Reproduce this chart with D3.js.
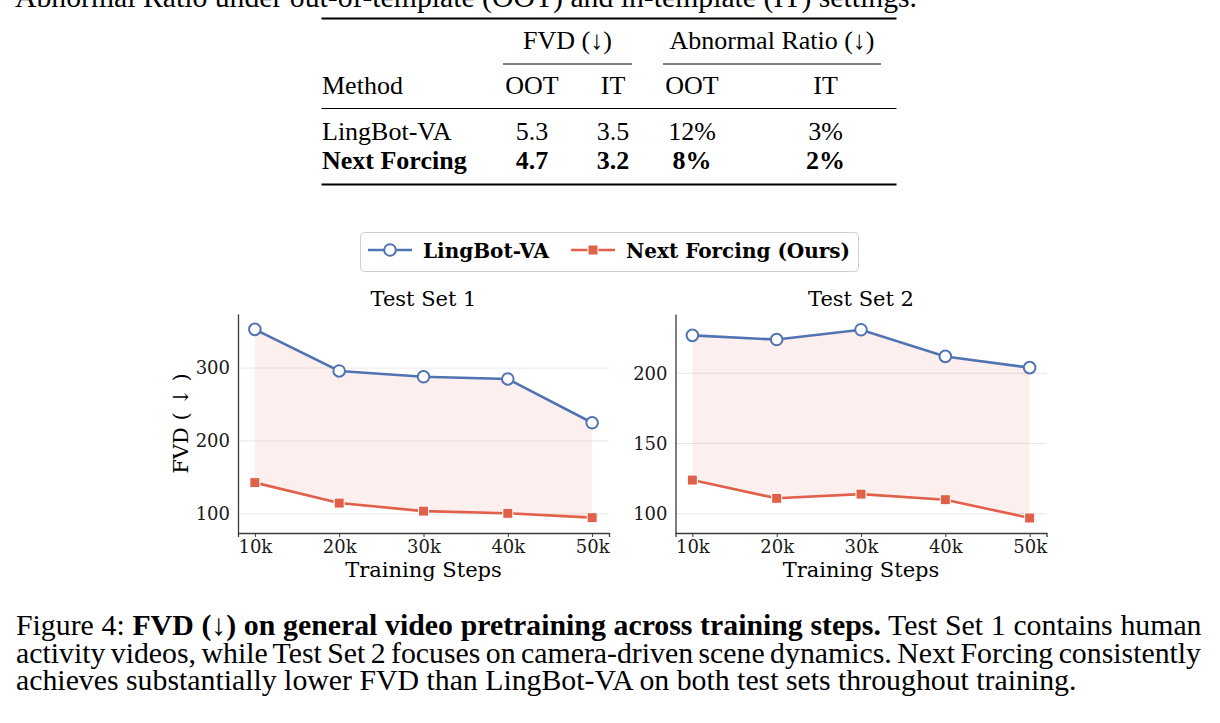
<!DOCTYPE html>
<html>
<head>
<meta charset="utf-8">
<script src="https://cdn.jsdelivr.net/npm/d3@7"></script>
<style>
  body { margin: 0; background: #fff; }
  svg { display: block; }
</style>
</head>
<body>
<div id="figure"></div>
<script>

// ---- chart data ----
const steps = ["10k", "20k", "30k", "40k", "50k"];
const stepValues = [10, 20, 30, 40, 50];
const seriesNames = ["LingBot-VA", "Next Forcing (Ours)"];
const panelTitles = ["Test Set 1", "Test Set 2"];

const set1Lingbot = [353, 296, 288, 285, 225];
const set1Next = [143, 115, 104, 101, 95];
const set2Lingbot = [227, 224, 231, 212, 204];
const set2Next = [124, 111, 114, 110, 97];

const set1Ticks = [100, 200, 300];
const set2Ticks = [100, 150, 200];

// ---- table data ----
const tableMethods = ["LingBot-VA", "Next Forcing"];
const fvdOOT = ["5.3", "4.7"];
const fvdIT = ["3.5", "3.2"];
const abnOOT = ["12%", "8%"];
const abnIT = ["3%", "2%"];

// ---- caption text ----
const topLine = "Abnormal Ratio under out-of-template (OOT) and in-template (IT) settings.";
const captionLines = [
  [["Figure 4: ", false], ["FVD (\u2193) on general video pretraining across training steps.", true], [" Test Set 1 contains human", false]],
  [["activity videos, while Test Set 2 focuses on camera-driven scene dynamics. Next Forcing consistently", false]],
  [["achieves substantially lower FVD than LingBot-VA on both test sets throughout training.", false]]
];

const width = 1220, height = 723;
const blue = "#5073b2", red = "#e0604a";
const times = "'Liberation Serif', 'Times New Roman', serif";
const dejavu = "'DejaVu Serif', serif";

const svg = d3.select("#figure")
  .append("svg")
  .attr("width", width)
  .attr("height", height);

/*
  Table (top)
*/

// cut-off line of text above the table
svg.append("text")
  .attr("x", 15).attr("y", 7)
  .attr("font-family", times).attr("font-size", 29.8)
  .attr("textLength", 902).attr("lengthAdjust", "spacingAndGlyphs")
  .text(topLine);

const rule = (y, x1, x2, w) => svg.append("line")
  .attr("x1", x1).attr("x2", x2).attr("y1", y).attr("y2", y)
  .attr("stroke", "#000").attr("stroke-width", w);

rule(18.5, 321.5, 896.5, 2);
rule(64, 503, 632, 1);
rule(64, 663, 881, 1);
rule(108.5, 321.5, 896.5, 1);
rule(184.5, 321.5, 896.5, 2);

const tcell = (x, y, txt, anchor, bold) => svg.append("text")
  .attr("x", x).attr("y", y)
  .attr("text-anchor", anchor)
  .attr("font-family", times).attr("font-size", 26)
  .attr("font-weight", bold ? "bold" : "normal")
  .text(txt);

tcell(567.5, 49, "FVD (\u2193)", "middle", false);
tcell(772, 49, "Abnormal Ratio (\u2193)", "middle", false);
tcell(322, 94, "Method", "start", false);
tcell(532, 94, "OOT", "middle", false);
tcell(613, 94, "IT", "middle", false);
tcell(692, 94, "OOT", "middle", false);
tcell(825.5, 94, "IT", "middle", false);

const rowY = [140, 169];
tableMethods.forEach((m, i) => {
  const b = i === 1;
  tcell(322, rowY[i], m, "start", b);
  tcell(532, rowY[i], fvdOOT[i], "middle", b);
  tcell(613, rowY[i], fvdIT[i], "middle", b);
  tcell(692, rowY[i], abnOOT[i], "middle", b);
  tcell(825.5, rowY[i], abnIT[i], "middle", b);
});

/*
  Legend
*/

const legend = svg.append("g");
legend.append("rect")
  .attr("x", 360.5).attr("y", 232.5)
  .attr("width", 498).attr("height", 39)
  .attr("rx", 4)
  .attr("fill", "#fff").attr("stroke", "#cfcfcf");

legend.append("line").attr("x1", 368).attr("x2", 412).attr("y1", 250).attr("y2", 250)
  .attr("stroke", blue).attr("stroke-width", 2.6);
legend.append("circle").attr("cx", 390).attr("cy", 250).attr("r", 5.8)
  .attr("fill", "#fff").attr("stroke", blue).attr("stroke-width", 2);
legend.append("text").attr("x", 423).attr("y", 258)
  .attr("font-family", dejavu).attr("font-size", 20).attr("font-weight", "bold")
  .text(seriesNames[0]);

legend.append("line").attr("x1", 571).attr("x2", 615).attr("y1", 250).attr("y2", 250)
  .attr("stroke", red).attr("stroke-width", 2.6);
legend.append("rect").attr("x", 588).attr("y", 245).attr("width", 10).attr("height", 10)
  .attr("fill", red).attr("stroke", "#fff").attr("stroke-width", 1);
legend.append("text").attr("x", 626).attr("y", 258)
  .attr("font-family", dejavu).attr("font-size", 20).attr("font-weight", "bold")
  .text(seriesNames[1]);

/*
  Panels
*/

const panels = [
  { title: panelTitles[0], top: set1Lingbot, low: set1Next, ticks: set1Ticks,
    yDomain: [74, 374], left: 238, right: 609, ylabel: true },
  { title: panelTitles[1], top: set2Lingbot, low: set2Next, ticks: set2Ticks,
    yDomain: [86.3, 242.2], left: 675.5, right: 1046.5, ylabel: false }
];
const plotTop = 314, plotBottom = 533;

panels.forEach((p) => {
  const g = svg.append("g");

  let xScale = d3.scaleLinear().domain([8, 52]).range([p.left, p.right]);
  let yScale = d3.scaleLinear().domain(p.yDomain).range([plotBottom, plotTop]);

  // grid lines
  g.selectAll(".grid")
    .data(p.ticks)
    .enter()
    .append("line")
      .attr("x1", p.left).attr("x2", p.right)
      .attr("y1", (d) => yScale(d)).attr("y2", (d) => yScale(d))
      .attr("stroke", "#e6e6e6").attr("stroke-width", 1);

  // shaded gap between the two series
  const rows = stepValues.map((s, i) => ({ s: s, a: p.top[i], b: p.low[i] }));
  g.append("path")
    .datum(rows)
    .attr("fill", red).attr("fill-opacity", 0.1)
    .attr("d", d3.area()
      .x((d) => xScale(d.s))
      .y0((d) => yScale(d.b))
      .y1((d) => yScale(d.a)));

  // axes
  const xAxis = g.append("g")
    .attr("transform", `translate(0,${plotBottom})`)
    .call(d3.axisBottom(xScale).tickValues(stepValues)
      .tickFormat((d, i) => steps[i]).tickSizeOuter(0).tickSize(4).tickPadding(3));
  const yAxis = g.append("g")
    .attr("transform", `translate(${p.left},0)`)
    .call(d3.axisLeft(yScale).tickValues(p.ticks).tickSizeOuter(0).tickSize(0).tickPadding(8));

  [xAxis, yAxis].forEach((ax) => {
    ax.select(".domain").attr("stroke", "#3a3a3a").attr("stroke-width", 1.3);
    ax.selectAll(".tick line").attr("stroke", "#3a3a3a");
    ax.selectAll("text").attr("font-family", dejavu).attr("font-size", 18).attr("fill", "#1a1a1a");
  });

  // series lines
  const line = d3.line().x((d, i) => xScale(stepValues[i])).y((d) => yScale(d));
  g.append("path").datum(p.top)
    .attr("fill", "none").attr("stroke", blue).attr("stroke-width", 2.6)
    .attr("d", line);
  g.append("path").datum(p.low)
    .attr("fill", "none").attr("stroke", red).attr("stroke-width", 2.6)
    .attr("d", line);

  // markers
  g.selectAll(".circ")
    .data(p.top)
    .enter()
    .append("circle")
      .attr("cx", (d, i) => xScale(stepValues[i]))
      .attr("cy", (d) => yScale(d))
      .attr("r", 5.8)
      .attr("fill", "#fff").attr("stroke", blue).attr("stroke-width", 2);
  g.selectAll(".sq")
    .data(p.low)
    .enter()
    .append("rect")
      .attr("x", (d, i) => xScale(stepValues[i]) - 5)
      .attr("y", (d) => yScale(d) - 5)
      .attr("width", 10).attr("height", 10)
      .attr("fill", red).attr("stroke", "#fff").attr("stroke-width", 1);

  // titles
  const cx = (p.left + p.right) / 2;
  g.append("text").attr("x", cx).attr("y", 306)
    .attr("text-anchor", "middle")
    .attr("font-family", dejavu).attr("font-size", 21)
    .text(p.title);
  g.append("text").attr("x", cx).attr("y", 577)
    .attr("text-anchor", "middle")
    .attr("font-family", dejavu).attr("font-size", 21)
    .text("Training Steps");
  if (p.ylabel) {
    g.append("text")
      .attr("transform", `translate(188,${(plotTop + plotBottom) / 2}) rotate(-90)`)
      .attr("text-anchor", "middle")
      .attr("font-family", dejavu).attr("font-size", 21)
      .text("FVD ( \u2193 )");
  }
});

/*
  Caption (justified lines)
*/

const capY = [635, 662.5, 690];
const capRight = [1201.5, 1201, null];
captionLines.forEach((parts, i) => {
  const t = svg.append("text")
    .attr("x", 16).attr("y", capY[i])
    .attr("font-family", times).attr("font-size", 29.8);
  parts.forEach((pt) => {
    t.append("tspan")
      .attr("font-weight", pt[1] ? "bold" : "normal")
      .text(pt[0]);
  });
  if (capRight[i]) {
    const natural = t.node().getComputedTextLength();
    const spaces = parts.map((pt) => pt[0]).join("").split(" ").length - 1;
    t.attr("word-spacing", (capRight[i] - 16 - natural) / spaces);
  }
});

</script>
</body>
</html>
